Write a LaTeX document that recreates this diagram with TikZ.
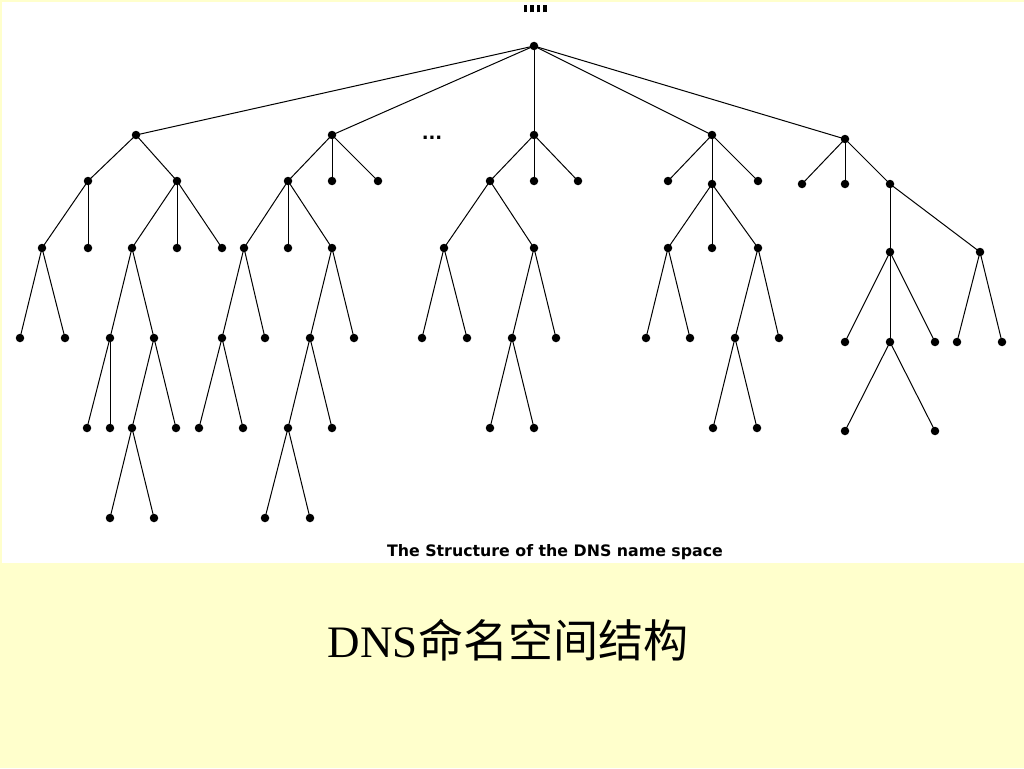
\documentclass[tikz,border=0pt]{standalone}
\usepackage{fontspec}
\setmainfont{Liberation Serif}
\newfontfamily\cjk{Noto Sans CJK SC}
\newfontfamily\capfont{DejaVu Sans}
\definecolor{yellowbg}{RGB}{255,255,204}
\begin{document}
\begin{tikzpicture}[x=1pt,y=-1pt,
  dot/.style={circle,fill=black,inner sep=0pt,minimum size=8.5pt},
  edgeline/.style={draw=black,line width=1pt}]
\fill[yellowbg] (0,0) rectangle (1024,768);
\fill[white] (2,2) rectangle (1024,563);
\useasboundingbox (0,0) rectangle (1024,768);
% root and its mark
\node[dot] (r) at (534,46) {};
\node[inner sep=0pt] (mark) at (535,9) {\rule{3.5pt}{7pt}\hspace{3pt}\rule{3.5pt}{7pt}\hspace{3pt}\rule{3.5pt}{7pt}\hspace{3pt}\rule{3.5pt}{7pt}};
% level 1
\node[dot] (A) at (136,135) {};
\node[dot] (B) at (332,135) {};
\node[dot] (C) at (534,135) {};
\node[dot] (D) at (712,135) {};
\node[dot] (E) at (845,139) {};
\node[font=\capfont\bfseries\fontsize{18}{20}\selectfont,inner sep=0pt,anchor=base] (ell) at (432,139) {...};
% level 2
\node[dot] (A1) at (88,181) {};
\node[dot] (A2) at (177,181) {};
\node[dot] (B1) at (288,181) {};
\node[dot] (B2) at (332,181) {};
\node[dot] (B3) at (378,181) {};
\node[dot] (C1) at (490,181) {};
\node[dot] (C2) at (534,181) {};
\node[dot] (C3) at (578,181) {};
\node[dot] (D1) at (668,181) {};
\node[dot] (D2) at (712,184) {};
\node[dot] (D3) at (758,181) {};
\node[dot] (E1) at (802,184) {};
\node[dot] (E2) at (845,184) {};
\node[dot] (E3) at (890,184) {};
% level 3
\node[dot] (A11) at (42,248) {};
\node[dot] (A12) at (88,248) {};
\node[dot] (A21) at (132,248) {};
\node[dot] (A22) at (177,248) {};
\node[dot] (A23) at (222,248) {};
\node[dot] (B11) at (244,248) {};
\node[dot] (B12) at (288,248) {};
\node[dot] (B13) at (332,248) {};
\node[dot] (C11) at (444,248) {};
\node[dot] (C12) at (534,248) {};
\node[dot] (D21) at (668,248) {};
\node[dot] (D22) at (712,248) {};
\node[dot] (D23) at (758,248) {};
\node[dot] (E31) at (890,252) {};
\node[dot] (E32) at (980,252) {};
% level 4
\node[dot] (A111) at (20,338) {};
\node[dot] (A112) at (65,338) {};
\node[dot] (A211) at (110,338) {};
\node[dot] (A212) at (154,338) {};
\node[dot] (B111) at (222,338) {};
\node[dot] (B112) at (265,338) {};
\node[dot] (B131) at (310,338) {};
\node[dot] (B132) at (354,338) {};
\node[dot] (C111) at (422,338) {};
\node[dot] (C112) at (467,338) {};
\node[dot] (C121) at (512,338) {};
\node[dot] (C122) at (556,338) {};
\node[dot] (D211) at (646,338) {};
\node[dot] (D212) at (690,338) {};
\node[dot] (D231) at (735,338) {};
\node[dot] (D232) at (779,338) {};
\node[dot] (E311) at (845,342) {};
\node[dot] (E312) at (890,342) {};
\node[dot] (E313) at (935,342) {};
\node[dot] (E321) at (957,342) {};
\node[dot] (E322) at (1002,342) {};
% level 5
\node[dot] (A2111) at (87,428) {};
\node[dot] (A2112) at (110,428) {};
\node[dot] (A2121) at (132,428) {};
\node[dot] (A2122) at (176,428) {};
\node[dot] (B1111) at (199,428) {};
\node[dot] (B1112) at (243,428) {};
\node[dot] (B1311) at (288,428) {};
\node[dot] (B1312) at (332,428) {};
\node[dot] (C1211) at (490,428) {};
\node[dot] (C1212) at (534,428) {};
\node[dot] (D2311) at (713,428) {};
\node[dot] (D2312) at (757,428) {};
\node[dot] (E3121) at (845,431) {};
\node[dot] (E3122) at (935,431) {};
% level 6
\node[dot] (A21211) at (110,518) {};
\node[dot] (A21212) at (154,518) {};
\node[dot] (B13111) at (265,518) {};
\node[dot] (B13112) at (310,518) {};
% edges
\foreach \p/\c in {r/A,r/B,r/C,r/D,r/E,
  A/A1,A/A2,B/B1,B/B2,B/B3,C/C1,C/C2,C/C3,D/D1,D/D2,D/D3,E/E1,E/E2,E/E3,
  A1/A11,A1/A12,A2/A21,A2/A22,A2/A23,B1/B11,B1/B12,B1/B13,C1/C11,C1/C12,
  D2/D21,D2/D22,D2/D23,E3/E31,E3/E32,
  A11/A111,A11/A112,A21/A211,A21/A212,B11/B111,B11/B112,B13/B131,B13/B132,
  C11/C111,C11/C112,C12/C121,C12/C122,D21/D211,D21/D212,D23/D231,D23/D232,
  E31/E311,E31/E312,E31/E313,E32/E321,E32/E322,
  A211/A2111,A211/A2112,A212/A2121,A212/A2122,B111/B1111,B111/B1112,
  B131/B1311,B131/B1312,C121/C1211,C121/C1212,D231/D2311,D231/D2312,
  E312/E3121,E312/E3122,
  A2121/A21211,A2121/A21212,B1311/B13111,B1311/B13112}
  \draw[edgeline] (\p.center) -- (\c.center);
% captions
\node[font=\capfont\bfseries\fontsize{15.8}{18}\selectfont,anchor=base,inner sep=0pt] (cap) at (555,556) {The Structure of the DNS name space};
\node[font=\fontsize{45}{50}\selectfont,anchor=base,inner sep=0pt] (title) at (508,657) {DNS{\cjk 命名空间结构}};
\end{tikzpicture}
\end{document}
